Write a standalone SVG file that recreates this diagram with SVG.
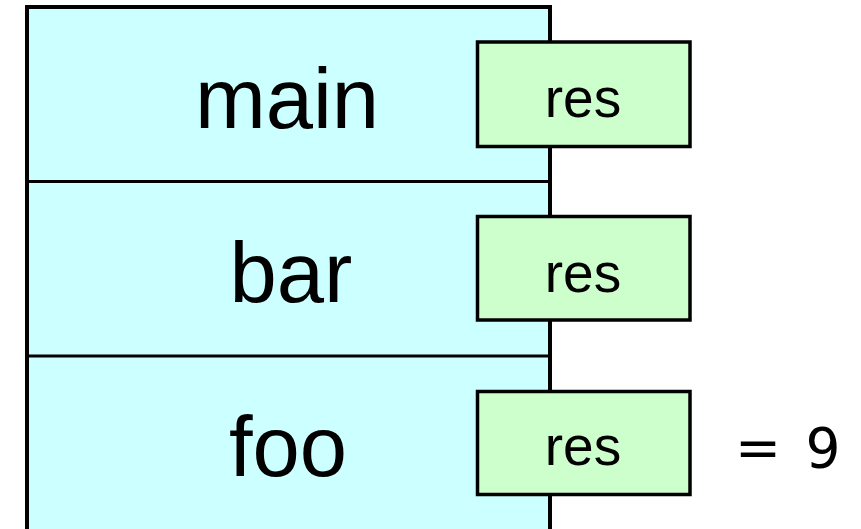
<svg xmlns="http://www.w3.org/2000/svg" width="861" height="529" viewBox="0 0 861 529">
<style>
.frame{fill:#CCFFFF;stroke:#000;stroke-width:4}
.div{stroke:#000;stroke-width:3}
.box{fill:#CCFFCC;stroke:#000;stroke-width:3.5}
.lbl{font-family:"Liberation Sans",Arial,sans-serif;font-size:85px;fill:#000;text-anchor:middle}
.res{font-family:"Liberation Sans",Arial,sans-serif;font-size:55px;fill:#000;text-anchor:middle}
.val{font-family:"DejaVu Sans",sans-serif;font-size:55px;fill:#000}
</style>
<g id="stack">
<rect class="frame" x="27" y="7" width="523" height="560"/>
</g>
<g id="connectors">
<line class="div" x1="27" y1="181.5" x2="550" y2="181.5"/>
<line class="div" x1="27" y1="356" x2="550" y2="356"/>
</g>
<g id="frame-main">
<text class="lbl" x="287" y="128">main</text>
</g>
<g id="frame-bar">
<text class="lbl" x="291" y="302">bar</text>
</g>
<g id="frame-foo">
<text class="lbl" x="288" y="476">foo</text>
</g>
<g id="res-main">
<rect class="box" x="477.5" y="42" width="212.5" height="104.5"/>
<text class="res" x="583" y="117">res</text>
</g>
<g id="res-bar">
<rect class="box" x="477.5" y="216.5" width="212.5" height="103.5"/>
<text class="res" x="583" y="292">res</text>
</g>
<g id="res-foo">
<rect class="box" x="477.5" y="391.5" width="212.5" height="103"/>
<text class="res" x="583" y="465">res</text>
</g>
<g id="value">
<text class="val" x="735" y="467" word-spacing="7">= 9</text>
</g>
</svg>
